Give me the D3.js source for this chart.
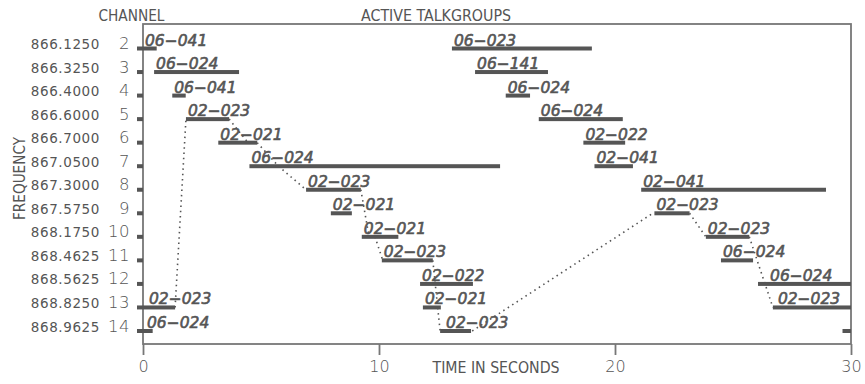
<!DOCTYPE html>
<html>
<head>
<meta charset="utf-8">
<script src="https://cdn.jsdelivr.net/npm/d3@7"></script>
<style>
  body { margin: 0; background: #fff; }
  svg text { fill: #555; }
</style>
</head>
<body>
<div id="chart"></div>
<script>
// scanner trace: which talkgroup sat on which channel, and how the scanner hopped

const width = 865
const height = 384

// channel numbers and their frequencies (top to bottom)
const channels = [2, 3, 4, 5, 6, 7, 8, 9, 10, 11, 12, 13, 14]
const frequencies = ["866.1250", "866.3250", "866.4000", "866.6000", "866.7000", "867.0500",
  "867.3000", "867.5750", "868.1750", "868.4625", "868.5625", "868.8250", "868.9625"]

// active calls: [channel, talkgroup, start s, end s]
const calls = [
  [2, "06-041", 0, 0.58], [2, "06-023", 13.09, 19.02],
  [3, "06-024", 0.47, 4.07], [3, "06-141", 14.07, 17.16],
  [4, "06-041", 1.24, 1.81], [4, "06-024", 15.37, 16.40],
  [5, "02-023", 1.82, 3.65], [5, "06-024", 16.77, 20.33],
  [6, "02-021", 3.19, 4.84], [6, "02-022", 18.66, 20.43],
  [7, "06-024", 4.51, 15.13], [7, "02-041", 19.13, 20.76],
  [8, "02-023", 6.91, 9.23], [8, "02-041", 21.11, 28.94],
  [9, "02-021", 7.96, 8.85], [9, "02-023", 21.67, 23.16],
  [10, "02-021", 9.27, 10.82], [10, "02-023", 23.85, 25.69],
  [11, "02-023", 10.12, 12.28], [11, "06-024", 24.49, 25.85],
  [12, "02-022", 11.74, 13.98], [12, "06-024", 26.06, 30],
  [13, "02-023", 0, 1.36], [13, "02-021", 11.86, 12.62], [13, "02-023", 26.69, 30],
  [14, "06-024", 0, 0.41], [14, "02-023", 12.59, 13.90], [14, "", 29.64, 30]
]

// scanner hops (dotted): [from s, from channel, to s, to channel]
const hops = [
  [1.36, 13, 1.82, 5],
  [3.65, 5, 4.45, 6],
  [4.84, 6, 5.74, 7],
  [5.74, 7, 6.91, 8],
  [9.23, 8, 9.58, 10],
  [9.83, 10, 10.16, 11],
  [12.28, 11, 12.59, 14],
  [13.95, 14, 21.6, 9],
  [23.16, 9, 23.85, 10],
  [25.69, 10, 26.69, 13]
]

const timeTicks = [0, 10, 20, 30]

// a few labels sit a bit further right than the rest
const labelNudge = { "13-0": 4, "14-0": 2, "14-12.59": 4, "12-26.06": 10, "13-26.69": 3 }

const svg = d3.select("#chart")
  .append("svg")
  .attr("width", width)
  .attr("height", height)

const x = d3.scaleLinear().domain([0, 30]).range([143, 851])
const y = d3.scaleLinear().domain([2, 14]).range([48.5, 331])

const plotTop = 24, plotBottom = 344

// frame
svg.append("rect")
  .attr("x", x(0)).attr("y", plotTop)
  .attr("width", x(30) - x(0)).attr("height", plotBottom - plotTop)
  .attr("fill", "none")
  .attr("stroke", "#777")
  .attr("stroke-width", 1.8)

// bottom axis
const xAxis = d3.axisBottom(x)
  .tickValues(timeTicks)
  .tickSize(11)
  .tickPadding(6)
  .tickFormat(d3.format("d"))

const gx = svg.append("g")
  .attr("transform", `translate(0,${plotBottom})`)
  .call(xAxis)
gx.select(".domain").remove()
gx.selectAll(".tick line").attr("stroke", "#777").attr("stroke-width", 1.8)
gx.selectAll(".tick text")
  .attr("font-family", "DejaVu Sans")
  .attr("font-weight", 300)
  .attr("font-size", 16)
  .attr("fill", "#666")

// left side: stubby tick blocks, channel numbers, frequencies
svg.append("g").selectAll("rect")
  .data(channels)
  .join("rect")
  .attr("x", x(0) - 6)
  .attr("y", d => y(d) - 2)
  .attr("width", 6)
  .attr("height", 4)
  .attr("fill", "#555")

svg.append("g").selectAll("text")
  .data(channels)
  .join("text")
  .attr("x", 130)
  .attr("y", d => y(d) + 0.5)
  .attr("text-anchor", "end")
  .attr("font-family", "DejaVu Sans")
  .attr("font-weight", 300)
  .attr("font-size", 16.5)
  .attr("letter-spacing", 0.5)
  .attr("fill", "#666")
  .text(d => d)

svg.append("g").selectAll("text")
  .data(frequencies)
  .join("text")
  .attr("x", 100)
  .attr("y", (d, i) => y(channels[i]) + 0.5)
  .attr("text-anchor", "end")
  .attr("font-family", "DejaVu Sans")
  .attr("font-size", 13.5)
  .attr("letter-spacing", 0.6)
  .attr("fill", "#666")
  .text(d => d)

// titles (condensed caps)
function title(txt, tx, ty, len, rot) {
  svg.append("text")
    .attr("transform", `translate(${tx},${ty})` + (rot ? " rotate(-90)" : ""))
    .attr("text-anchor", "middle")
    .attr("font-family", "DejaVu Sans Condensed, DejaVu Sans")
    .attr("font-stretch", "condensed")
    .attr("font-size", 16)
    .attr("textLength", len)
    .attr("lengthAdjust", "spacingAndGlyphs")
    .attr("fill", "#444")
    .text(txt)
}
title("CHANNEL", 131.5, 21, 66)
title("ACTIVE TALKGROUPS", 436, 21, 150)
title("TIME IN SECONDS", 496, 372.5, 127)
title("FREQUENCY", 25, 178.5, 83, true)

// scanner hops
svg.append("g").selectAll("line")
  .data(hops)
  .join("line")
  .attr("x1", d => x(d[0])).attr("y1", d => y(d[1]))
  .attr("x2", d => x(d[2])).attr("y2", d => y(d[3]))
  .attr("stroke", "#555")
  .attr("stroke-width", 1.6)
  .attr("stroke-dasharray", "1.5,3.8")

// call bars
svg.append("g").selectAll("rect")
  .data(calls)
  .join("rect")
  .attr("x", d => x(d[2]))
  .attr("y", d => y(d[0]) - 2)
  .attr("width", d => x(d[3]) - x(d[2]))
  .attr("height", 4)
  .attr("fill", "#555")

// talkgroup labels
svg.append("g").selectAll("text")
  .data(calls.filter(d => d[1] !== ""))
  .join("text")
  .attr("x", d => x(d[2]) + 2 + (labelNudge[d[0] + "-" + d[2]] || 0))
  .attr("y", d => y(d[0]) - 3)
  .attr("font-family", "DejaVu Sans")
  .attr("font-style", "italic")
  .attr("font-size", 15.5)
  .attr("stroke", "#555")
  .attr("stroke-width", 0.6)
  .text(d => d[1].replace("-", "\u2212"))
</script>
</body>
</html>
